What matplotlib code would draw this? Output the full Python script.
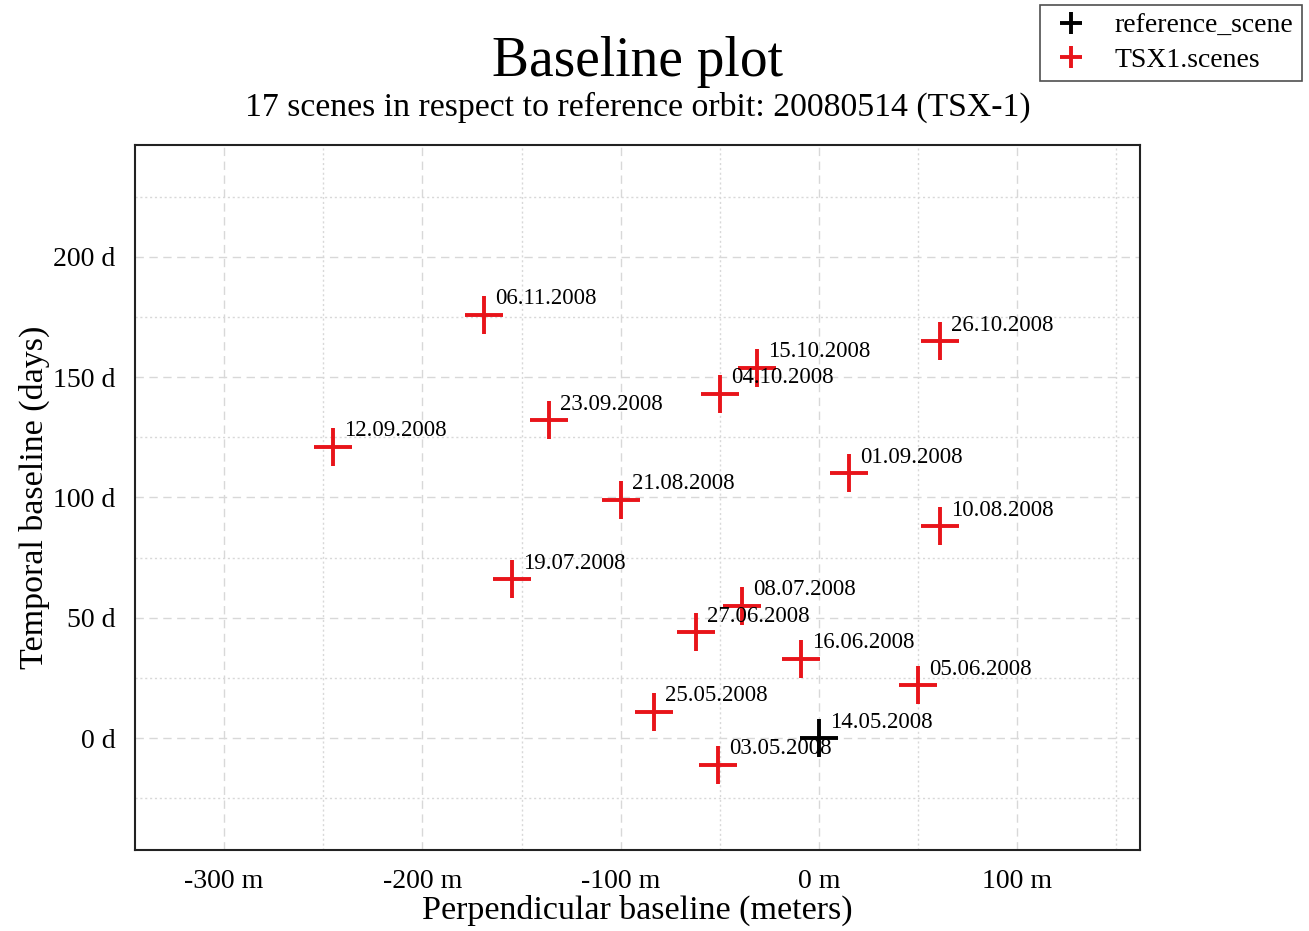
import matplotlib
matplotlib.use("Agg")
import matplotlib.pyplot as plt
from matplotlib.ticker import MultipleLocator, FuncFormatter
from matplotlib.lines import Line2D

plt.rcParams['font.family'] = ['Liberation Serif', 'DejaVu Serif']

ref_label = "14.05.2008"
ref_x = [0]
ref_y = [0]

dates = ["03.05.2008", "25.05.2008", "05.06.2008", "16.06.2008", "27.06.2008",
         "08.07.2008", "19.07.2008", "10.08.2008", "21.08.2008", "01.09.2008",
         "12.09.2008", "23.09.2008", "04.10.2008", "15.10.2008", "26.10.2008",
         "06.11.2008"]
perp = [-51, -83, 50, -9, -62, -39, -155, 61, -100, 15, -245, -136, -50, -31, 61, -169]
temporal = [-11, 11, 22, 33, 44, 55, 66, 88, 99, 110, 121, 132, 143, 154, 165, 176]

fig = plt.figure(figsize=(13.09, 9.31), dpi=100)
ax = fig.add_axes([0.1031, 0.087, 0.7678, 0.7573])

ax.set_xlim(-345, 162)
ax.set_ylim(-46.5, 246.5)

ax.xaxis.set_major_locator(MultipleLocator(100))
ax.xaxis.set_minor_locator(MultipleLocator(50))
ax.yaxis.set_major_locator(MultipleLocator(50))
ax.yaxis.set_minor_locator(MultipleLocator(25))
ax.xaxis.set_major_formatter(FuncFormatter(lambda v, p: f"{int(v)} m"))
ax.yaxis.set_major_formatter(FuncFormatter(lambda v, p: f"{int(v)} d"))
ax.grid(which='major', color='#d8d8d8', linestyle=(0, (6, 4)), linewidth=1.0)
ax.grid(which='minor', color='#d8d8d8', linestyle=(0, (1.5, 2)), linewidth=1.0)
ax.set_axisbelow(True)
ax.tick_params(which='both', length=0, labelsize=20, pad=14)
for s in ax.spines.values():
    s.set_linewidth(1.5)
    s.set_color('#222222')

ax.plot(perp, temporal, linestyle='none', marker='+', color='#e8141a',
        markersize=28, markeredgewidth=2.8, zorder=3)
ax.plot(ref_x, ref_y, linestyle='none', marker='+', color='black',
        markersize=28, markeredgewidth=2.8, zorder=4)

for x, y, t in zip(perp, temporal, dates):
    ax.annotate(t, (x, y), xytext=(8, 4), textcoords='offset points',
                fontsize=16.5, ha='left', va='bottom', zorder=5)
ax.annotate(ref_label, (ref_x[0], ref_y[0]), xytext=(8, 4), textcoords='offset points',
            fontsize=16.5, ha='left', va='bottom', zorder=5)

ax.set_xlabel("Perpendicular baseline (meters)", fontsize=24.5, labelpad=0)
ax.set_ylabel("Temporal baseline (days)", fontsize=24.5, labelpad=2)

fig.text(0.487, 0.933, "Baseline plot", fontsize=40, ha='center', va='center')
fig.text(0.487, 0.885, "17 scenes in respect to reference orbit: 20080514 (TSX-1)",
         fontsize=24.3, ha='center', va='center')

h_ref = Line2D([], [], linestyle='none', marker='+', color='black', markersize=16, markeredgewidth=2.8)
h_tsx = Line2D([], [], linestyle='none', marker='+', color='#e8141a', markersize=16, markeredgewidth=2.8)
leg = fig.legend([h_ref, h_tsx], ['reference_scene', 'TSX1.scenes'],
                 loc='upper right', bbox_to_anchor=(0.9947, 0.9946), borderaxespad=0,
                 fontsize=20, frameon=True, fancybox=False,
                 handlelength=1.6, handletextpad=0.8, borderpad=0.3, labelspacing=0.3)
leg.get_frame().set_edgecolor('#222222')
leg.get_frame().set_linewidth(1.2)

fig.savefig("out.png", dpi=100)
